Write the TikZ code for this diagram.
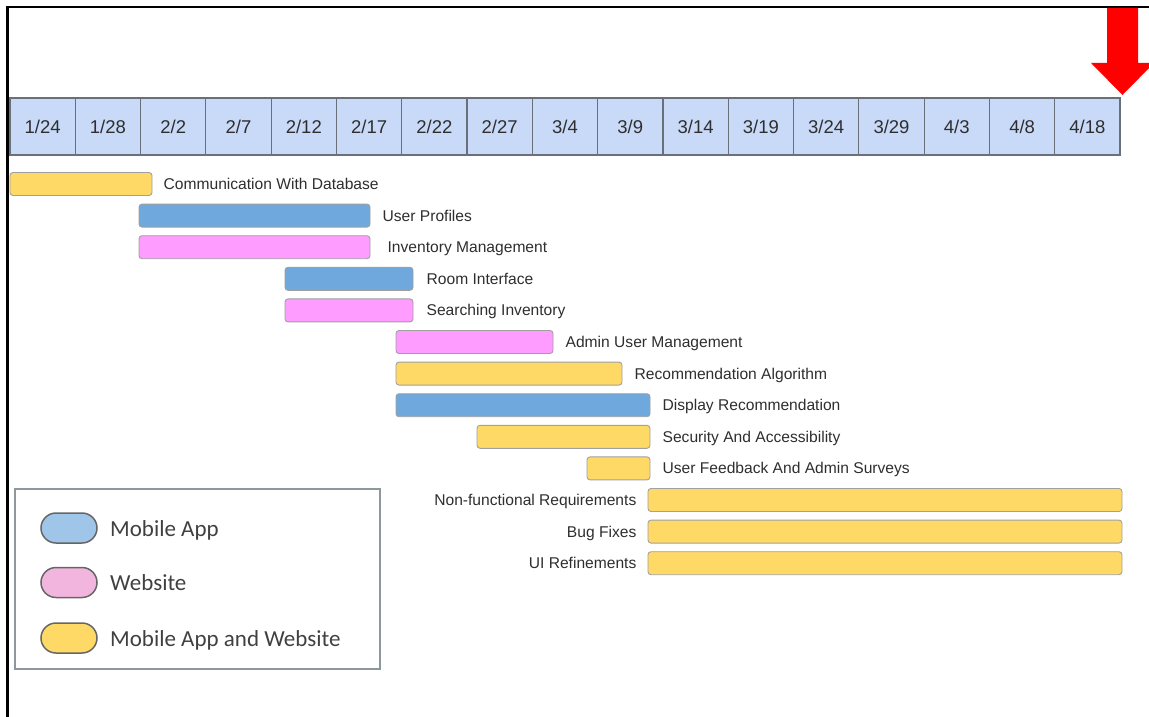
\documentclass[tikz,border=0pt]{standalone}
\usepackage{fontspec}
\setmainfont{Liberation Sans}
\newfontfamily\legfont{Carlito}
\definecolor{cellbg}{HTML}{C9DAF8}
\definecolor{cellbd}{HTML}{6A7079}
\definecolor{ylw}{HTML}{FFD966}
\definecolor{blu}{HTML}{6FA8DC}
\definecolor{pnk}{HTML}{FF9CFF}
\definecolor{barbd}{HTML}{A0A0A0}
\definecolor{txt}{HTML}{2E2E2E}
\definecolor{legbd}{HTML}{8E979C}
\definecolor{lblu}{HTML}{9FC5E8}
\definecolor{lpnk}{HTML}{F2B6DE}
\definecolor{arr}{HTML}{FF0000}

\begin{document}
\begin{tikzpicture}[x=1pt,y=-1pt,
    cell/.style={draw=cellbd,line width=1.2pt,fill=cellbg,minimum width=65.3pt,minimum height=57pt,
        inner sep=0pt,outer sep=0pt,text=txt,font=\fontsize{18.5}{20}\selectfont},
    bar/.style={draw=barbd,line width=0.9pt,rounded corners=3pt,minimum height=23pt,inner sep=0pt},
    lbl/.style={text=txt,inner sep=0pt,text height=11pt,text depth=0pt,font=\fontsize{15.6}{18}\selectfont},
    oval/.style={draw=black!60,line width=1.5pt,rounded corners=15pt,minimum width=56pt,minimum height=30pt,inner sep=0pt},
    key/.style={anchor=west,inner sep=0pt,text=black!75,text height=16pt,text depth=0pt,font=\legfont\fontsize{23}{26}\selectfont}]
                \useasboundingbox (0,0) rectangle (1149,717);
                % frame
                \draw[line width=2.6pt] (7.5,717) -- (7.5,7) -- (1149,7);
                % dates
                \node[cell](d1)at(42.6,126.5){1/24};
                \node[cell](d2)at(107.9,126.5){1/28};
                \node[cell](d3)at(173.2,126.5){2/2};
                \node[cell](d4)at(238.5,126.5){2/7};
                \node[cell](d5)at(303.8,126.5){2/12};
                \node[cell](d6)at(369.1,126.5){2/17};
                \node[cell](d7)at(434.4,126.5){2/22};
                \node[cell](d8)at(499.7,126.5){2/27};
                \node[cell](d9)at(565.0,126.5){3/4};
                \node[cell](d10)at(630.3,126.5){3/9};
                \node[cell](d11)at(695.6,126.5){3/14};
                \node[cell](d12)at(760.9,126.5){3/19};
                \node[cell](d13)at(826.2,126.5){3/24};
                \node[cell](d14)at(891.5,126.5){3/29};
                \node[cell](d15)at(956.8,126.5){4/3};
                \node[cell](d16)at(1022.1,126.5){4/8};
                \node[cell](d17)at(1087.4,126.5){4/18};
                % arrow
                \fill[arr] (1107,8) -- (1138,8) -- (1138,63) -- (1154,63) -- (1122.5,95) -- (1091,63) -- (1107,63) -- cycle;
                % tasks
                \node[bar,fill=ylw,minimum width=142pt](comm)at(81,184){};
                \node[bar,fill=blu,minimum width=231pt](prof)at(254.5,215.6){};
                \node[bar,fill=pnk,minimum width=231pt](inv)at(254.5,247.2){};
                \node[bar,fill=blu,minimum width=128pt](room)at(349,278.8){};
                \node[bar,fill=pnk,minimum width=128pt](srch)at(349,310.4){};
                \node[bar,fill=pnk,minimum width=157pt](admin)at(474.5,342){};
                \node[bar,fill=ylw,minimum width=226pt](algo)at(509,373.6){};
                \node[bar,fill=blu,minimum width=254pt](disp)at(523,405.2){};
                \node[bar,fill=ylw,minimum width=173pt](sec)at(563.5,436.8){};
                \node[bar,fill=ylw,minimum width=63pt](fb)at(618.5,468.4){};
                \node[bar,fill=ylw,minimum width=474pt](nfr)at(885,500){};
                \node[bar,fill=ylw,minimum width=474pt](bug)at(885,531.6){};
                \node[bar,fill=ylw,minimum width=474pt](ui)at(885,563.2){};
                \node[lbl,anchor=west](lcomm)at([xshift=11pt]comm.east){Communication With Database};
                \node[lbl,anchor=west](lprof)at([xshift=12pt]prof.east){User Profiles};
                \node[lbl,anchor=west](linv)at([xshift=17pt]inv.east){Inventory Management};
                \node[lbl,anchor=west](lroom)at([xshift=13pt]room.east){Room Interface};
                \node[lbl,anchor=west](lsrch)at([xshift=13pt]srch.east){Searching Inventory};
                \node[lbl,anchor=west](ladmin)at([xshift=12pt]admin.east){Admin User Management};
                \node[lbl,anchor=west](lalgo)at([xshift=12pt]algo.east){Recommendation Algorithm};
                \node[lbl,anchor=west](ldisp)at([xshift=12pt]disp.east){Display Recommendation};
                \node[lbl,anchor=west](lsec)at([xshift=12pt]sec.east){Security And Accessibility};
                \node[lbl,anchor=west](lfb)at([xshift=12pt]fb.east){User Feedback And Admin Surveys};
                \node[lbl,anchor=east](lnfr)at([xshift=-11pt]nfr.west){Non-functional Requirements};
                \node[lbl,anchor=east](lbug)at([xshift=-11pt]bug.west){Bug Fixes};
                \node[lbl,anchor=east](lui)at([xshift=-11pt]ui.west){UI Refinements};
                % legend
                \node[draw=legbd,line width=1.6pt,minimum width=365pt,minimum height=180pt,inner sep=0pt](legend)at(197.5,579){};
                \node[oval,fill=lblu](kmob)at(69,528){};
                \node[oval,fill=lpnk](kweb)at(69,582.5){};
                \node[oval,fill=ylw](kboth)at(69,638){};
                \node[key](tmob)at(110,528){Mobile App};
                \node[key](tweb)at(110,582.5){Website};
                \node[key](tboth)at(110,638){Mobile App and Website};
\end{tikzpicture}
\end{document}
